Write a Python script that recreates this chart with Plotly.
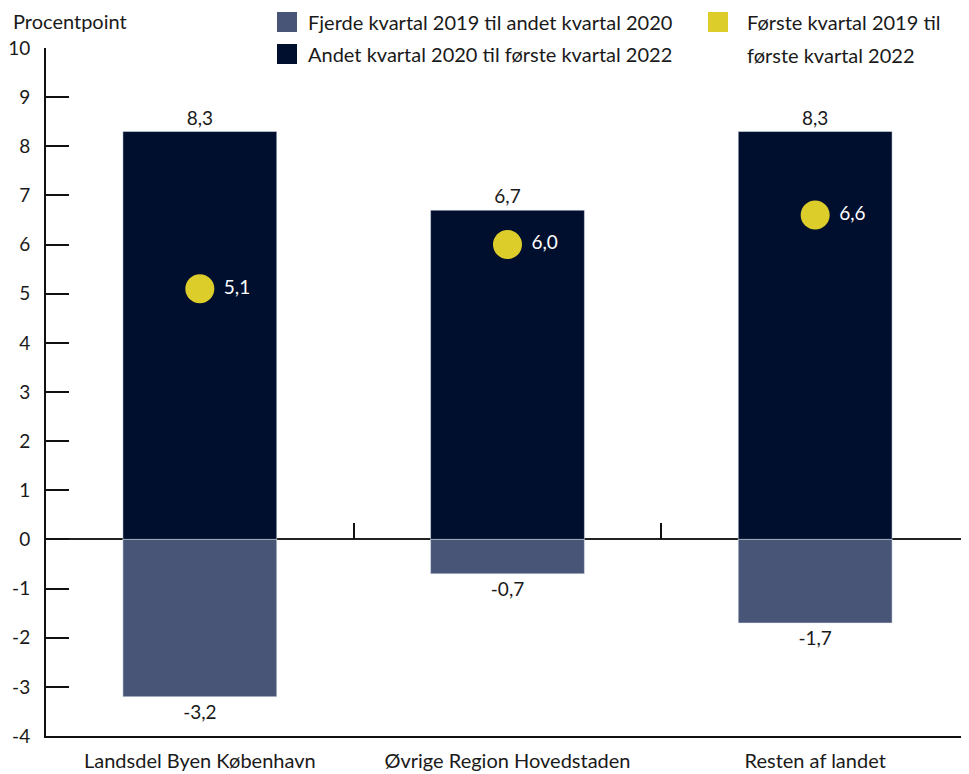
import plotly.graph_objects as go

categories = ["Landsdel Byen København", "Øvrige Region Hovedstaden", "Resten af landet"]
neg_values = [-3.2, -0.7, -1.7]   # Fjerde kvartal 2019 til andet kvartal 2020
pos_values = [8.3, 6.7, 8.3]      # Andet kvartal 2020 til første kvartal 2022
dot_values = [5.1, 6.0, 6.6]      # Første kvartal 2019 til første kvartal 2022
y_ticks = list(range(-4, 11))
y_tick_labels = [str(v) for v in y_ticks]

name_neg = "Fjerde kvartal 2019 til andet kvartal 2020"
name_pos = "Andet kvartal 2020 til første kvartal 2022"
name_dot_lines = ["Første kvartal 2019 til", "første kvartal 2022"]

C_NEG = "#485577"
C_POS = "#000f2e"
C_DOT = "#dccd2a"
FONT = "Lato"
FS = 20
FS_TICK = 19
TXT = "#1a1a1a"

W, H = 969, 774
# page has an 8px body margin; margins chosen so plot area lands on screen 46..969 x 48..736
ML, MR, MT, MB = 38, 8, 40, 46

def py(s):  # screen pixel y -> paper y
    return (736 - s) / (736 - 48)

def px(s):  # screen pixel x -> paper x
    return (s - 46) / (969 - 46)

def fmt(v):
    return f"{v:.1f}".replace(".", ",")

fig = go.Figure()
fig.add_trace(go.Bar(x=categories, y=pos_values, marker_color=C_POS, width=0.5,
                     text=[fmt(v) for v in pos_values], textposition="outside",
                     textfont=dict(size=FS_TICK, color=TXT, family=FONT),
                     cliponaxis=False, showlegend=False, name=name_pos))
fig.add_trace(go.Bar(x=categories, y=neg_values, marker_color=C_NEG, width=0.5,
                     text=[fmt(v) for v in neg_values], textposition="outside",
                     textfont=dict(size=FS_TICK, color=TXT, family=FONT),
                     cliponaxis=False, showlegend=False, name=name_neg))
fig.add_trace(go.Scatter(x=categories, y=dot_values, mode="markers+text",
                         marker=dict(size=29, color=C_DOT),
                         text=[" " + fmt(v) for v in dot_values],
                         textposition="middle right",
                         textfont=dict(size=FS_TICK, color="white", family=FONT),
                         showlegend=False, name=" ".join(name_dot_lines)))
# helper trace for the category-boundary tick axis
fig.add_trace(go.Scatter(x=[0], y=[0], xaxis="x2", mode="markers",
                         marker=dict(opacity=0), showlegend=False, hoverinfo="skip"))

fig.update_layout(
    width=W, height=H, barmode="relative",
    margin=dict(l=ML, r=MR, t=MT, b=MB),
    plot_bgcolor="white", paper_bgcolor="white",
    font=dict(family=FONT, size=FS, color=TXT),
    xaxis=dict(type="category", categoryarray=categories, showline=True,
               linecolor="#111", linewidth=2, ticks="", showgrid=False,
               automargin=False,
               tickfont=dict(size=FS, color=TXT), ticklabelstandoff=6),
    xaxis2=dict(overlaying="x", anchor="free", position=4 / 14,
                range=[-0.5, 2.5], tickvals=[0.5, 1.5], ticks="inside",
                ticklen=16, tickwidth=2, tickcolor="#111", showticklabels=False,
                showline=False, showgrid=False, zeroline=False, side="bottom",
                automargin=False),
    yaxis=dict(range=[-4, 10], tickvals=y_ticks, ticktext=y_tick_labels,
               ticks="inside", ticklen=23,
               tickwidth=2, tickcolor="#111", showline=True, linecolor="#111",
               linewidth=2, showgrid=False, zeroline=True, zerolinecolor="#222",
               zerolinewidth=2, tickfont=dict(size=FS_TICK, color=TXT),
               ticklabelstandoff=10, automargin=False),
)

# title of y axis
fig.add_annotation(text="Procentpoint", xref="paper", yref="paper",
                   x=px(11), y=py(21), xanchor="left", yanchor="middle",
                   showarrow=False, font=dict(size=FS, color=TXT))

# manual legend
legend_squares = [(C_NEG, 277, 22), (C_POS, 277, 54), (C_DOT, 708, 22)]
for color, x0, yc in legend_squares:
    fig.add_shape(type="rect", xref="paper", yref="paper",
                  x0=px(x0), x1=px(x0 + 20), y0=py(yc + 10), y1=py(yc - 10),
                  fillcolor=color, line=dict(width=0))
legend_texts = [(name_neg, 306, 22), (name_pos, 306, 54),
                (name_dot_lines[0], 745, 22), (name_dot_lines[1], 745, 55)]
for label, x0, yc in legend_texts:
    fig.add_annotation(text=label, xref="paper", yref="paper",
                       x=px(x0), y=py(yc), xanchor="left", yanchor="middle",
                       showarrow=False, font=dict(size=FS, color=TXT))

fig.write_html("out.html")
